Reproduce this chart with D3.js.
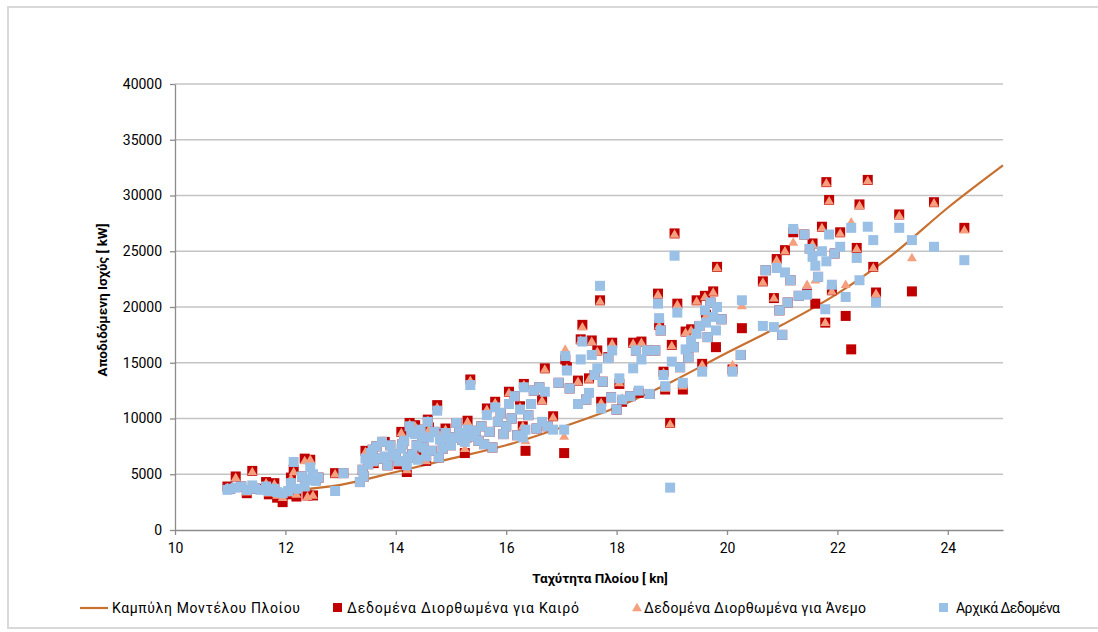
<!DOCTYPE html>
<html>
<head>
<meta charset="utf-8">
<script src="https://cdn.jsdelivr.net/npm/d3@7"></script>
<style>
  body { margin: 0; background: #fff; }
  svg { display: block; }
  text { font-family: Roboto, "Liberation Sans", sans-serif; fill: #000; }
</style>
</head>
<body>
<svg id="chart" width="1098" height="632"></svg>
<script>
// speed [kn], original power, wind corrected, weather corrected [kW]
const measurements = [
  [10.95, 3600, 3800, 3900], [11.0, 3700, 3700, 3700], [11.1, 3800, 4700, 4800],
  [11.2, 3900, 3900, 3900], [11.3, 3600, 3400, 3300], [11.4, 4000, 5200, 5300],
  [11.45, 3700, 3700, 3700], [11.55, 3600, 3600, 3700], [11.65, 3900, 4200, 4300],
  [11.7, 3500, 3300, 3200], [11.8, 3700, 4100, 4200], [11.85, 3400, 3100, 2900],
  [11.95, 3300, 2900, 2500], [12.05, 3500, 3300, 3200], [12.1, 4200, 4600, 4700],
  [12.15, 6100, 5200, 5400], [12.2, 3700, 3200, 3000], [12.3, 4800, 4800, 4800],
  [12.35, 3900, 6200, 6400], [12.4, 4500, 3000, 3100], [12.45, 5600, 6300, 6300],
  [12.5, 5000, 3100, 3100], [12.55, 4400, 4400, 4500], [12.6, 4700, 4700, 4700],
  [12.9, 3500, 5000, 5100], [13.05, 5100, 5100, 5100],
  [13.35, 4300, 4300, 4300], [13.4, 5400, 5400, 5400], [13.42, 4800, 4800, 4800],
  [13.45, 6400, 7000, 7100], [13.5, 5900, 5900, 5900], [13.55, 6900, 6900, 6900],
  [13.58, 7200, 7200, 7200], [13.6, 6200, 6000, 6000], [13.65, 7500, 7500, 7500],
  [13.7, 6400, 6400, 6400], [13.75, 7900, 7900, 7900], [13.8, 6600, 7800, 7900],
  [13.85, 5800, 5800, 5800], [13.9, 7600, 7600, 7600], [13.95, 6800, 6800, 6800],
  [14.0, 6600, 6600, 6600], [14.05, 6200, 6000, 5900], [14.1, 7300, 8700, 8800],
  [14.12, 7700, 7700, 7700], [14.15, 8000, 8000, 8000], [14.2, 5800, 5400, 5200],
  [14.22, 6500, 6500, 6500], [14.25, 9300, 9500, 9600], [14.28, 8800, 8800, 8800],
  [14.3, 6800, 6800, 6800], [14.35, 8600, 9300, 9400], [14.38, 7600, 7600, 7600],
  [14.4, 6300, 6500, 6600], [14.45, 9000, 9000, 9000], [14.48, 8300, 8300, 8300],
  [14.5, 7400, 7400, 7400], [14.55, 6600, 6200, 6200], [14.58, 9700, 9800, 9900],
  [14.6, 8300, 9000, 9200], [14.65, 7100, 7100, 7100], [14.7, 8800, 8800, 8800],
  [14.75, 10700, 11000, 11200], [14.78, 6500, 6500, 6500], [14.8, 8100, 8500, 8600],
  [14.85, 7300, 7300, 7300], [14.9, 8700, 9000, 9100], [14.95, 8200, 8200, 8200],
  [15.0, 7600, 7600, 7600], [15.05, 8300, 8300, 8300], [15.1, 9600, 9600, 9600],
  [15.15, 8700, 8700, 8700], [15.2, 8100, 8100, 8100], [15.25, 7900, 7300, 6900],
  [15.28, 8300, 8300, 8300], [15.3, 9000, 9700, 9800], [15.35, 13000, 13400, 13500],
  [15.4, 8400, 8400, 8400], [15.45, 8900, 8900, 8900], [15.5, 8000, 8000, 8000],
  [15.55, 9300, 9300, 9300], [15.6, 7700, 7700, 7700], [15.65, 10300, 10800, 10900],
  [15.7, 8800, 8800, 8800], [15.75, 7400, 7400, 7400], [15.8, 11000, 11400, 11500],
  [15.85, 9700, 9700, 9700], [15.9, 10500, 10500, 10500], [15.95, 8600, 8600, 8600],
  [16.0, 9300, 9300, 9300],
  [16.05, 11300, 12300, 12400], [16.1, 10000, 10000, 10000], [16.15, 12000, 12000, 12000],
  [16.2, 8500, 8500, 8500], [16.25, 10800, 11000, 11100], [16.3, 8300, 9300, 9300],
  [16.32, 12800, 13000, 13100], [16.35, 9000, 8000, 7100], [16.4, 10300, 10300, 10300],
  [16.45, 11300, 11300, 11300], [16.5, 12500, 12500, 12500], [16.55, 9100, 9100, 9100],
  [16.6, 12800, 12800, 12800], [16.65, 9700, 11600, 11700],
  [16.7, 12400, 14400, 14500], [16.75, 9300, 9300, 9300], [16.85, 9000, 10100, 10200],
  [16.95, 13200, 13200, 13200], [17.05, 9000, 8400, 6900], [17.07, 15600, 16200, 15300],
  [17.1, 14300, 14500, 14600], [17.15, 12700, 12700, 12700], [17.3, 11300, 13300, 13400],
  [17.35, 15300, 17000, 17100], [17.38, 16900, 18200, 18400], [17.45, 11700, 11700, 11700],
  [17.5, 12300, 13500, 13600], [17.55, 15700, 16900, 17000], [17.6, 13900, 13900, 13900],
  [17.65, 14500, 16000, 16100], [17.7, 21900, 20500, 20600], [17.72, 10900, 11400, 11500],
  [17.75, 13300, 13300, 13300], [17.85, 15400, 15400, 15500], [17.9, 11900, 11900, 11900],
  [17.92, 16100, 16700, 16800], [18.0, 10800, 10800, 10800], [18.05, 13600, 13200, 13100],
  [18.1, 11700, 11800, 11500], [18.25, 12000, 12000, 12000], [18.3, 14500, 16700, 16800],
  [18.35, 16100, 16100, 16100], [18.4, 12500, 12400, 12300], [18.45, 15300, 16800, 16900],
  [18.55, 16100, 16100, 16100], [18.6, 12200, 12200, 12200], [18.7, 16100, 16100, 16100],
  [18.75, 20300, 21100, 21200], [18.77, 19000, 18300, 18400], [18.8, 17900, 17900, 17900],
  [18.85, 13900, 14100, 14200], [18.88, 12900, 12700, 12600],
  [18.97, 3800, 9500, 9600], [19.0, 15100, 16500, 16600], [19.05, 24600, 26500, 26600],
  [19.1, 19500, 20200, 20300], [19.15, 14600, 14600, 14600], [19.2, 13200, 12900, 12600],
  [19.25, 16200, 17700, 17800], [19.3, 15500, 15500, 15500], [19.35, 17000, 17900, 18000],
  [19.4, 16400, 16400, 16400], [19.45, 17600, 20500, 20600], [19.5, 18300, 18300, 18300],
  [19.55, 14200, 14800, 14900], [19.6, 19700, 20900, 21000], [19.62, 18600, 19200, 19300],
  [19.65, 17300, 17300, 17300], [19.7, 20400, 20400, 20400], [19.75, 19100, 21300, 21400],
  [19.8, 17900, 17800, 16400], [19.82, 20000, 23500, 23600], [19.9, 18900, 18900, 18900],
  [20.1, 14200, 14800, 14400], [20.25, 15700, 15700, 15700], [20.27, 20600, 20100, 18100],
  [20.65, 18300, 22200, 22300], [20.7, 23300, 23300, 23300], [20.85, 18200, 20800, 20800],
  [20.9, 23500, 24200, 24300], [20.95, 19700, 19700, 19700], [21.0, 17500, 17500, 17500],
  [21.05, 23100, 25000, 25100],
  [21.1, 20400, 20400, 20400], [21.15, 22400, 22400, 22400], [21.2, 27000, 25800, 26700],
  [21.3, 21000, 21000, 21000], [21.4, 26500, 26500, 26500], [21.45, 21100, 22000, 21200],
  [21.5, 25200, 25200, 25200], [21.55, 24500, 25600, 25700], [21.6, 23700, 22400, 20300],
  [21.65, 22700, 22700, 22700], [21.72, 25000, 27100, 27200], [21.78, 19800, 18600, 18600],
  [21.8, 24100, 31100, 31200], [21.85, 26500, 29500, 29600], [21.9, 22000, 21400, 21500],
  [21.95, 24800, 24800, 24800], [22.05, 25400, 26600, 26700], [22.15, 20900, 22000, 19200],
  [22.25, 27100, 27600, 16200], [22.35, 24400, 25200, 25300], [22.4, 22400, 29100, 29200],
  [22.55, 27200, 31300, 31400], [22.65, 26000, 23500, 23600], [22.7, 20400, 21200, 21300],
  [23.12, 27100, 28200, 28300], [23.35, 26000, 24400, 21400], [23.75, 25400, 29300, 29400],
  [24.3, 24200, 26900, 27100]
];

// ship model curve
const curveSpeed = [12.0, 13.0, 14.0, 15.0, 16.0, 17.0, 18.0, 19.0, 20.0, 21.0, 22.0, 23.0, 24.0, 25.0];
const curvePower = [3500, 4050, 5200, 6400, 7600, 9200, 11000, 13300, 15900, 18400, 21200, 24700, 28900, 32700];

const xTicks = [10, 12, 14, 16, 18, 20, 22, 24];
const yTicks = [0, 5000, 10000, 15000, 20000, 25000, 30000, 35000, 40000];

const legendLabels = ["Καμπύλη Μοντέλου Πλοίου", "Δεδομένα Διορθωμένα για Καιρό", "Δεδομένα Διορθωμένα για Άνεμο", "Αρχικά Δεδομένα"];
const xTitle = "Ταχύτητα Πλοίου [ kn]";
const yTitle = "Αποδιδόμενη Ισχύς [ kW]";

const colLine = "#c8702f", colRed = "#c00000", colOrange = "#f4a07e", colBlue = "#9bc0e6";

const svg = d3.select("#chart");
const plotLeft = 175, plotRight = 1003, plotTop = 84, plotBottom = 530;

svg.append("rect").attr("x", 8).attr("y", 7).attr("width", 1100).attr("height", 621)
  .attr("fill", "none").attr("stroke", "#d9d9d9").attr("stroke-width", 2);

const x = d3.scaleLinear().domain([10, 25]).range([plotLeft, plotRight]);
const y = d3.scaleLinear().domain([0, 40000]).range([plotBottom, plotTop]);

// gridlines
svg.append("g").selectAll("line").data(yTicks.slice(1)).enter().append("line")
  .attr("x1", plotLeft).attr("x2", plotRight)
  .attr("y1", d => y(d)).attr("y2", d => y(d))
  .attr("stroke", "#c4c4c4").attr("stroke-width", 1.3);

const xAxis = svg.append("g").attr("transform", "translate(0," + plotBottom + ")")
  .call(d3.axisBottom(x).tickValues(xTicks).tickSize(5).tickSizeOuter(0));
const yAxis = svg.append("g").attr("transform", "translate(" + plotLeft + ",0)")
  .call(d3.axisLeft(y).tickValues(yTicks).tickSize(5).tickSizeOuter(0).tickFormat(d3.format("d")));
[xAxis, yAxis].forEach(a => {
  a.selectAll("path, line").attr("stroke", "#8c8c8c").attr("stroke-width", 1.3);
  a.selectAll("text").style("font-size", "14px").attr("fill", "#000");
});
xAxis.selectAll("text").attr("dy", "1.05em");
yAxis.selectAll("text").attr("dx", "-0.35em");

// model curve
svg.append("path")
  .datum(curveSpeed.map((s, i) => [s, curvePower[i]]))
  .attr("d", d3.line().x(d => x(d[0])).y(d => y(d[1])).curve(d3.curveMonotoneX))
  .attr("fill", "none").attr("stroke", colLine).attr("stroke-width", 2.2);

const tri = d3.symbol().type(d3.symbolTriangle).size(42);

svg.append("g").selectAll("rect").data(measurements).enter().append("rect")
  .attr("x", d => x(d[0]) - 5).attr("y", d => y(d[3]) - 5)
  .attr("width", 10).attr("height", 10).attr("fill", colRed);
svg.append("g").selectAll("path").data(measurements).enter().append("path")
  .attr("d", tri).attr("transform", d => "translate(" + x(d[0]) + "," + (y(d[2]) + 0.5) + ")")
  .attr("fill", colOrange);
svg.append("g").selectAll("rect").data(measurements).enter().append("rect")
  .attr("x", d => x(d[0]) - 5).attr("y", d => y(d[1]) - 5)
  .attr("width", 10).attr("height", 10).attr("fill", colBlue);

// axis titles
svg.append("text").attr("x", 600).attr("y", 583).attr("text-anchor", "middle")
  .style("font-size", "13.5px").style("font-weight", "bold").text(xTitle);
svg.append("text").attr("transform", "translate(107,300) rotate(-90)").attr("text-anchor", "middle")
  .style("font-size", "13.5px").style("font-weight", "bold").text(yTitle);

// legend
const ly = 608;
const lg = svg.append("g");
lg.append("line").attr("x1", 80).attr("x2", 108).attr("y1", ly).attr("y2", ly)
  .attr("stroke", colLine).attr("stroke-width", 2.2);
lg.append("rect").attr("x", 333).attr("y", ly - 5).attr("width", 9).attr("height", 9).attr("fill", colRed);
lg.append("path").attr("d", tri).attr("transform", "translate(637," + (ly + 0.5) + ")").attr("fill", colOrange);
lg.append("rect").attr("x", 939).attr("y", ly - 5).attr("width", 9).attr("height", 9).attr("fill", colBlue);
const lx = [112, 347, 644, 956];
const lw = [188, 232, 222, 104];
lg.selectAll("text").data(legendLabels).enter().append("text")
  .attr("x", (d, i) => lx[i]).attr("y", ly + 5).style("font-size", "14px")
  .attr("textLength", (d, i) => lw[i])
  .text(d => d);
</script>
</body>
</html>
